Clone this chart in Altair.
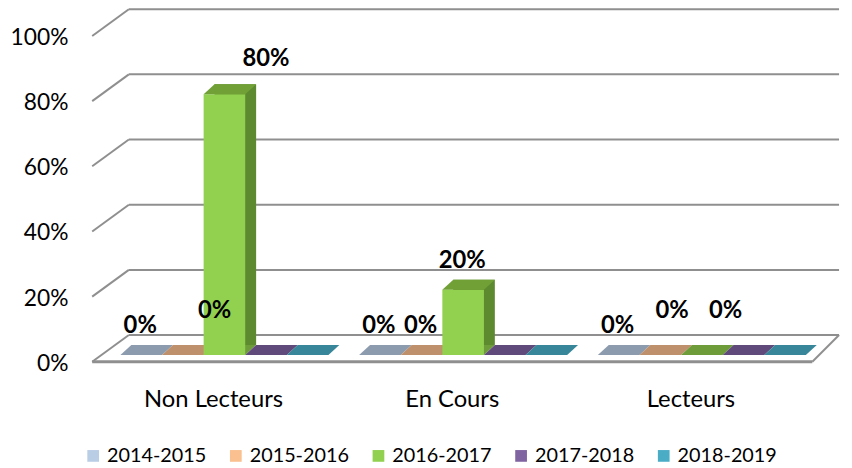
import altair as alt
import pandas as pd

# ---------------- data ----------------
categories = ["Non Lecteurs", "En Cours", "Lecteurs"]
series = ["2014-2015", "2015-2016", "2016-2017", "2017-2018", "2018-2019"]
values_2014_2015 = [0.0, 0.0, 0.0]
values_2015_2016 = [0.0, 0.0, 0.0]
values_2016_2017 = [0.80, 0.20, 0.0]
values_2017_2018 = [0.0, 0.0, 0.0]
values_2018_2019 = [0.0, 0.0, 0.0]
y_ticks = [0.0, 0.2, 0.4, 0.6, 0.8, 1.0]

# which data labels are visible in the original, and their placement group
label_cats = ["Non Lecteurs", "En Cours", "En Cours", "En Cours", "Lecteurs",
              "Non Lecteurs", "Lecteurs", "Lecteurs", "Non Lecteurs"]
label_series = ["2014-2015", "2014-2015", "2015-2016", "2016-2017", "2014-2015",
                "2015-2016", "2015-2016", "2016-2017", "2016-2017"]
label_groups = ["low", "low", "low", "low", "low", "mid_a", "mid_b", "mid_c", "high"]

# ---------------- styles ----------------
legend_colors = ["#b9cde5", "#fac090", "#92d050", "#8064a2", "#4bacc6"]
floor_colors = ["#8d9bae", "#bf906c", "#6f9c3b", "#604a7b", "#37869a"]
side_colors = ["#7a8ca4", "#b07e58", "#5e8a2f", "#52406b", "#2f7587"]
top_colors = ["#9aaac0", "#d8a47a", "#71a036", "#6d5690", "#3f98ad"]
GRID = "#8f8f8f"
FONT = "Lato"

W, H = 723, 329
DX = 37                 # depth of the 3D box in px (x)
DEPTH = 27 / H          # depth of the 3D box (y), in data units
SLOT = 42 / 241         # width of one series slot, as a fraction of a category step
FRONT_DX, FRONT_DY = 13, -7   # bar front face position inside the box
SIDE_DX, SIDE_DY = 11, -10    # depth of a bar
FACE = "M -1 0 L 1 0 L 1.524 -0.476 L -0.476 -0.476 Z"  # flat parallelogram
FACE_SIZE = 42 * 42

rows = []
for si, (s, vals) in enumerate(zip(series, [values_2014_2015, values_2015_2016,
                                            values_2016_2017, values_2017_2018,
                                            values_2018_2019])):
    for ci, (c, v) in enumerate(zip(categories, vals)):
        rows.append({"cat": c, "series": s, "value": v, "ci": ci, "si": si})
df = pd.DataFrame(rows)
df["cx"] = df["ci"] + 0.5 + (df["si"] - 2) * SLOT
df["x0"] = df["cx"] - SLOT / 2
df["x1"] = df["cx"] + SLOT / 2
df["zero"] = 0.0
labels = pd.DataFrame({"cat": label_cats, "series": label_series,
                       "grp": label_groups}).merge(df, on=["cat", "series"])
grid = pd.DataFrame({"v": y_ticks})
grid["v2"] = grid["v"] + DEPTH
floor = pd.DataFrame({"v": [0.0], "v2": [DEPTH]})
cat_df = pd.DataFrame({"cat": categories, "cx": [i + 0.5 for i in range(len(categories))],
                       "zero": [0.0] * len(categories)})

y_scale = alt.Scale(domain=[0, 1], nice=False, zero=True)
x_scale = alt.Scale(domain=[0, len(categories)], nice=False, zero=False)


def X(field):
    return alt.X(field, scale=x_scale, axis=None)


def Y(field):
    return alt.Y(field, scale=y_scale, axis=None)


# y axis labels
y_labels = alt.Chart(grid).mark_text(
    font=FONT, fontSize=23, color="#000000", align="right", baseline="middle",
    dy=2).encode(x=alt.value(-24), y=Y("v:Q"), text=alt.Text("v:Q", format=".0%"))
# category labels
x_labels = alt.Chart(cat_df).mark_text(
    font=FONT, fontSize=24, color="#000000", align="center", baseline="alphabetic",
    dx=2, dy=46).encode(x=X("cx:Q"), y=Y("zero:Q"), text="cat:N")

# gridlines: slanted part + back wall part
grid_slant = alt.Chart(grid).mark_rule(color=GRID, strokeWidth=2).encode(
    x=alt.value(0), x2=alt.value(DX), y=Y("v:Q"), y2="v2:Q")
grid_back = alt.Chart(grid).mark_rule(color=GRID, strokeWidth=2).encode(
    x=alt.value(DX), x2=alt.value(W + 31), y=Y("v2:Q"))
floor_front = alt.Chart(floor).mark_rule(color=GRID, strokeWidth=3).encode(
    x=alt.value(0), x2=alt.value(W + 4), y=Y("v:Q"))
floor_right = alt.Chart(floor).mark_rule(color=GRID, strokeWidth=2).encode(
    x=alt.value(W + 4), x2=alt.value(W + 31), y=Y("v:Q"), y2="v2:Q")

base = alt.Chart(df)

floor_tiles = base.mark_point(
    shape=FACE, size=FACE_SIZE, filled=True, opacity=1, strokeWidth=0,
    xOffset=FRONT_DX, yOffset=FRONT_DY).encode(
    x=X("cx:Q"), y=Y("zero:Q"),
    fill=alt.Fill("series:N", scale=alt.Scale(domain=series, range=floor_colors), legend=None))

bar_side = base.transform_filter("datum.value > 0").mark_bar(
    xOffset=FRONT_DX + SIDE_DX, x2Offset=FRONT_DX + SIDE_DX,
    yOffset=FRONT_DY + SIDE_DY, y2Offset=FRONT_DY + SIDE_DY).encode(
    x=X("x0:Q"), x2="x1:Q", y=Y("value:Q"), y2="zero:Q",
    fill=alt.Fill("series:N", scale=alt.Scale(domain=series, range=side_colors), legend=None))

bar_front = base.transform_filter("datum.value > 0").mark_bar(
    xOffset=FRONT_DX, x2Offset=FRONT_DX,
    yOffset=FRONT_DY, y2Offset=FRONT_DY).encode(
    x=X("x0:Q"), x2="x1:Q", y=Y("value:Q"), y2="zero:Q",
    color=alt.Color("series:N", scale=alt.Scale(domain=series, range=legend_colors),
                    legend=alt.Legend(title=None, orient="none", legendX=-9, legendY=414,
                                      direction="horizontal", columns=5,
                                      symbolType="square", symbolSize=140,
                                      symbolStrokeWidth=0,
                                      labelFontSize=20, labelFont=FONT,
                                      labelColor="#000000", columnPadding=19,
                                      labelOffset=4)))

bar_top = base.transform_filter("datum.value > 0").mark_point(
    shape=FACE, size=FACE_SIZE, filled=True, opacity=1, strokeWidth=0,
    xOffset=FRONT_DX, yOffset=FRONT_DY).encode(
    x=X("cx:Q"), y=Y("value:Q"),
    fill=alt.Fill("series:N", scale=alt.Scale(domain=series, range=top_colors), legend=None))


def label_layer(group, dx, dy):
    return alt.Chart(labels).transform_filter(f"datum.grp == '{group}'").mark_text(
        font=FONT, fontWeight="bold", fontSize=24, color="#000000",
        dx=FRONT_DX + dx, dy=dy).encode(
        x=X("cx:Q"), y=Y("value:Q"),
        text=alt.Text("value:Q", format=".0%"))


chart = alt.layer(
    grid_slant, grid_back, floor_front, floor_right,
    floor_tiles, bar_side, bar_front, bar_top,
    y_labels, x_labels,
    label_layer("low", -1, -36),
    label_layer("mid_a", 32, -51),
    label_layer("mid_b", 12, -51),
    label_layer("mid_c", 24, -51),
    label_layer("high", 42, -42),
).resolve_scale(fill="independent", color="independent").properties(
    width=W, height=H,
    padding={"left": 85, "top": 26, "right": 36, "bottom": 104},
    autosize=alt.AutoSizeParams(type="none"),
    background="white",
).configure_view(stroke=None)

chart.save("out.html", embed_options={"renderer": "svg", "actions": False})
